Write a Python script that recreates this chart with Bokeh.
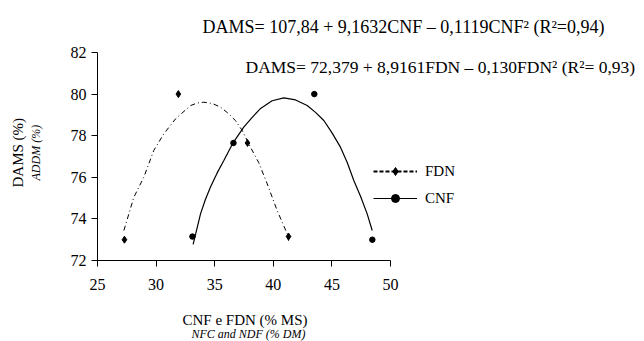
from bokeh.plotting import figure
from bokeh.models import Range1d, Label, Legend, LegendItem, FixedTicker, Title
from bokeh.embed import file_html
from bokeh.resources import INLINE

fdn_x = [27.3, 31.9, 37.8, 41.3]
fdn_y = [73.0, 80.0, 77.65, 73.15]
cnf_x = [33.1, 36.6, 43.5, 48.45]
cnf_y = [73.15, 77.65, 80.0, 73.0]

# trend lines
fdn_trend_x = [27.25, 28.1, 28.95, 29.8, 30.66, 31.66, 32.94, 33.5, 34.07, 34.8, 35.5, 36.1,
               36.77, 37.35, 38.05, 38.76, 39.48, 40.33, 41.19, 41.3]
fdn_trend_y = [73.44, 75.04, 76.0, 77.29, 78.09, 78.81, 79.45, 79.57, 79.61, 79.55, 79.37, 79.1,
               78.73, 78.25, 77.45, 76.7, 75.69, 74.4, 73.28, 72.95]
cnf_trend_x = [33.16, 33.79, 34.2, 34.64, 35.2, 35.78, 36.58, 37.48, 38.2, 38.88, 39.9, 40.9,
               41.9, 42.89, 43.6, 44.31, 45.0, 45.73, 46.3, 46.87, 47.45, 48.01, 48.44]
cnf_trend_y = [72.77, 74.24, 74.92, 75.53, 76.2, 76.81, 77.67, 78.41, 78.88, 79.29, 79.68, 79.82,
               79.72, 79.45, 79.12, 78.73, 78.15, 77.45, 76.72, 75.85, 75.08, 74.24, 73.44]

x_ticks = [25, 30, 35, 40, 45, 50]
y_ticks = [72, 74, 76, 78, 80, 82]

eq_cnf = "DAMS= 107,84 + 9,1632CNF \u2013 0,1119CNF\u00b2  (R\u00b2=0,94)"
eq_fdn = "DAMS= 72,379 + 8,9161FDN \u2013 0,130FDN\u00b2  (R\u00b2= 0,93)"
xlab1 = "CNF e FDN (% MS)"
xlab2 = "NFC and NDF (% DM)"
ylab1 = "DAMS (%)"
ylab2 = "ADDM (%)"
series = ["FDN", "CNF"]

FONT = "Liberation Serif"
NAN = float("nan")

# layout (pixels)
W, H = 644, 341
L, R, T, B = 97, 644, 4, 260        # frame edges
x0, x1, xp0, xp1 = 25, 50, 97, 390  # axis span and its pixels
y0, y1, yp0, yp1 = 72, 82, 260, 52
xs = (x1 - x0) / (xp1 - xp0)
ys = (y1 - y0) / (yp0 - yp1)

p = figure(width=W, height=H,
           x_range=Range1d(x0, x0 + (R - L) * xs),
           y_range=Range1d(y0, y0 + (B - T) * ys),
           output_backend="svg", toolbar_location=None,
           min_border_left=L, min_border_right=W - R, min_border_top=T, min_border_bottom=H - B)
p.xgrid.visible = False
p.ygrid.visible = False
p.outline_line_color = None
p.background_fill_color = "white"
p.border_fill_color = "white"

for ax, ticks, bnds in ((p.xaxis, x_ticks, (x0, x1)), (p.yaxis, y_ticks, (y0, y1))):
    ax.ticker = FixedTicker(ticks=ticks)
    ax.bounds = bnds
    ax.major_label_text_font = FONT
    ax.major_label_text_font_size = "16px"
    ax.major_label_text_color = "black"
    ax.axis_line_color = "black"
    ax.major_tick_line_color = "black"
    ax.major_tick_out = 6
    ax.major_tick_in = 0
    ax.minor_tick_line_color = None
p.xaxis.major_label_standoff = 12
p.yaxis.major_label_standoff = 5

p.line(fdn_trend_x, fdn_trend_y, line_color="black", line_width=1, line_dash="5 3 1 3")
p.line(cnf_trend_x, cnf_trend_y, line_color="black", line_width=1.2)
p.scatter(fdn_x, fdn_y, marker="diamond", size=7, color="black")
p.scatter(cnf_x, cnf_y, marker="circle", size=5.5, color="black")

# legend-only renderers (no visible data)
lf = p.line([NAN], [NAN], line_color="black", line_width=2, line_dash="4 2")
mf = p.scatter([NAN], [NAN], marker="diamond", size=7, color="black")
lc = p.line([NAN], [NAN], line_color="black", line_width=1.2)
mc = p.scatter([NAN], [NAN], marker="circle", size=5.5, color="black")
legend = Legend(items=[LegendItem(label=series[0], renderers=[lf, mf]),
                       LegendItem(label=series[1], renderers=[lc, mc])],
                location=(276, 52), glyph_width=44, glyph_height=20, spacing=7,
                padding=0, margin=0, label_standoff=8,
                label_text_font=FONT, label_text_font_size="15px", label_text_color="black",
                border_line_color=None, background_fill_alpha=0)
p.add_layout(legend, "center")

def lab(x, y, text, size):
    p.add_layout(Label(x=x, y=y, text=text, text_font=FONT, text_font_size=size,
                       text_align="left", text_baseline="middle", text_color="black"))

lab(x0 + (202 - xp0) * xs, y0 + (yp0 - 26) * ys, eq_cnf, "18px")
lab(x0 + (245 - xp0) * xs, y0 + (yp0 - 66) * ys, eq_fdn, "17.5px")

# axis titles outside the frame (a blank spacer title sets the gap from the axis)
def title(text, side, offset, standoff, size, style="normal"):
    p.add_layout(Title(text=text, align="left", offset=offset, standoff=standoff,
                       text_font=FONT, text_font_size=size, text_font_style=style,
                       text_color="black"), side)

title(" ", "below", 0, 14, "1px")
title(xlab1, "below", 85, 0, "15px")
title(xlab2, "below", 94, -6, "12px", "italic")
title(" ", "left", 0, 22, "1px")
title(ylab2, "left", 80, 0, "12px", "italic")
title(ylab1, "left", 73, 2, "15px")

open("out.html", "w").write(file_html(p, INLINE))
